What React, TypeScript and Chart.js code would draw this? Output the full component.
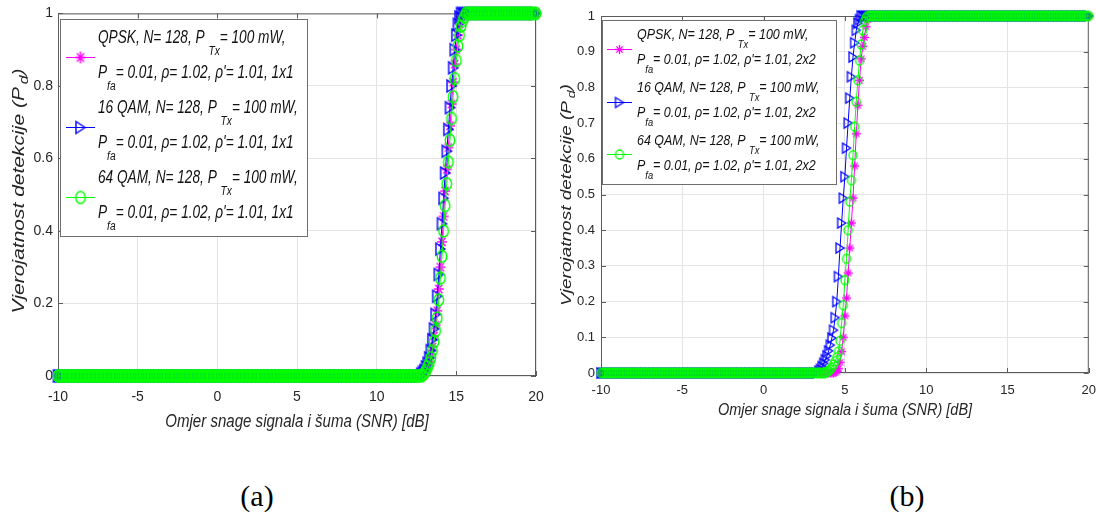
import React, { useEffect, useRef } from "react";
import { Chart, registerables } from "chart.js";

Chart.register(...registerables);

// SNR grid [dB], one row per dB
const snrDb = [
  -10, -9.9, -9.8, -9.7, -9.6, -9.5, -9.4, -9.3, -9.2, -9.1,
  -9, -8.9, -8.8, -8.7, -8.6, -8.5, -8.4, -8.3, -8.2, -8.1,
  -8, -7.9, -7.8, -7.7, -7.6, -7.5, -7.4, -7.3, -7.2, -7.1,
  -7, -6.9, -6.8, -6.7, -6.6, -6.5, -6.4, -6.3, -6.2, -6.1,
  -6, -5.9, -5.8, -5.7, -5.6, -5.5, -5.4, -5.3, -5.2, -5.1,
  -5, -4.9, -4.8, -4.7, -4.6, -4.5, -4.4, -4.3, -4.2, -4.1,
  -4, -3.9, -3.8, -3.7, -3.6, -3.5, -3.4, -3.3, -3.2, -3.1,
  -3, -2.9, -2.8, -2.7, -2.6, -2.5, -2.4, -2.3, -2.2, -2.1,
  -2, -1.9, -1.8, -1.7, -1.6, -1.5, -1.4, -1.3, -1.2, -1.1,
  -1, -0.9, -0.8, -0.7, -0.6, -0.5, -0.4, -0.3, -0.2, -0.1,
  0, 0.1, 0.2, 0.3, 0.4, 0.5, 0.6, 0.7, 0.8, 0.9,
  1, 1.1, 1.2, 1.3, 1.4, 1.5, 1.6, 1.7, 1.8, 1.9,
  2, 2.1, 2.2, 2.3, 2.4, 2.5, 2.6, 2.7, 2.8, 2.9,
  3, 3.1, 3.2, 3.3, 3.4, 3.5, 3.6, 3.7, 3.8, 3.9,
  4, 4.1, 4.2, 4.3, 4.4, 4.5, 4.6, 4.7, 4.8, 4.9,
  5, 5.1, 5.2, 5.3, 5.4, 5.5, 5.6, 5.7, 5.8, 5.9,
  6, 6.1, 6.2, 6.3, 6.4, 6.5, 6.6, 6.7, 6.8, 6.9,
  7, 7.1, 7.2, 7.3, 7.4, 7.5, 7.6, 7.7, 7.8, 7.9,
  8, 8.1, 8.2, 8.3, 8.4, 8.5, 8.6, 8.7, 8.8, 8.9,
  9, 9.1, 9.2, 9.3, 9.4, 9.5, 9.6, 9.7, 9.8, 9.9,
  10, 10.1, 10.2, 10.3, 10.4, 10.5, 10.6, 10.7, 10.8, 10.9,
  11, 11.1, 11.2, 11.3, 11.4, 11.5, 11.6, 11.7, 11.8, 11.9,
  12, 12.1, 12.2, 12.3, 12.4, 12.5, 12.6, 12.7, 12.8, 12.9,
  13, 13.1, 13.2, 13.3, 13.4, 13.5, 13.6, 13.7, 13.8, 13.9,
  14, 14.1, 14.2, 14.3, 14.4, 14.5, 14.6, 14.7, 14.8, 14.9,
  15, 15.1, 15.2, 15.3, 15.4, 15.5, 15.6, 15.7, 15.8, 15.9,
  16, 16.1, 16.2, 16.3, 16.4, 16.5, 16.6, 16.7, 16.8, 16.9,
  17, 17.1, 17.2, 17.3, 17.4, 17.5, 17.6, 17.7, 17.8, 17.9,
  18, 18.1, 18.2, 18.3, 18.4, 18.5, 18.6, 18.7, 18.8, 18.9,
  19, 19.1, 19.2, 19.3, 19.4, 19.5, 19.6, 19.7, 19.8, 19.9,
  20,
];

const xTicks = [-10, -5, 0, 5, 10, 15, 20];
const yTicksA = [0, 0.2, 0.4, 0.6, 0.8, 1];
const yTicksB = [0, 0.1, 0.2, 0.3, 0.4, 0.5, 0.6, 0.7, 0.8, 0.9, 1];

// (a) 1x1
const pdQpsk1x1 = [
  0,0,0,0,0,0,0,0,0,0, // -10
  0,0,0,0,0,0,0,0,0,0, // -9
  0,0,0,0,0,0,0,0,0,0, // -8
  0,0,0,0,0,0,0,0,0,0, // -7
  0,0,0,0,0,0,0,0,0,0, // -6
  0,0,0,0,0,0,0,0,0,0, // -5
  0,0,0,0,0,0,0,0,0,0, // -4
  0,0,0,0,0,0,0,0,0,0, // -3
  0,0,0,0,0,0,0,0,0,0, // -2
  0,0,0,0,0,0,0,0,0,0, // -1
  0,0,0,0,0,0,0,0,0,0, // 0
  0,0,0,0,0,0,0,0,0,0, // 1
  0,0,0,0,0,0,0,0,0,0, // 2
  0,0,0,0,0,0,0,0,0,0, // 3
  0,0,0,0,0,0,0,0,0,0, // 4
  0,0,0,0,0,0,0,0,0,0, // 5
  0,0,0,0,0,0,0,0,0,0, // 6
  0,0,0,0,0,0,0,0,0,0, // 7
  0,0,0,0,0,0,0,0,0,0, // 8
  0,0,0,0,0,0,0,0,0,0, // 9
  0,0,0,0,0,0,0,0,0,0, // 10
  0,0,0,0,0,0,0,0,0,0, // 11
  0,0,0,0,0,0,0,0,0,0.005, // 12
  0.01,0.02,0.03,0.04,0.06,0.08,0.11,0.14,0.18,0.24, // 13
  0.3,0.37,0.44,0.51,0.57,0.63,0.69,0.75,0.81,0.86, // 14
  0.9,0.94,0.97,0.99,1,1,1,1,1,1, // 15
  1,1,1,1,1,1,1,1,1,1, // 16
  1,1,1,1,1,1,1,1,1,1, // 17
  1,1,1,1,1,1,1,1,1,1, // 18
  1,1,1,1,1,1,1,1,1,1, // 19
  1,
];
const pd16qam1x1 = [
  0,0,0,0,0,0,0,0,0,0, // -10
  0,0,0,0,0,0,0,0,0,0, // -9
  0,0,0,0,0,0,0,0,0,0, // -8
  0,0,0,0,0,0,0,0,0,0, // -7
  0,0,0,0,0,0,0,0,0,0, // -6
  0,0,0,0,0,0,0,0,0,0, // -5
  0,0,0,0,0,0,0,0,0,0, // -4
  0,0,0,0,0,0,0,0,0,0, // -3
  0,0,0,0,0,0,0,0,0,0, // -2
  0,0,0,0,0,0,0,0,0,0, // -1
  0,0,0,0,0,0,0,0,0,0, // 0
  0,0,0,0,0,0,0,0,0,0, // 1
  0,0,0,0,0,0,0,0,0,0, // 2
  0,0,0,0,0,0,0,0,0,0, // 3
  0,0,0,0,0,0,0,0,0,0, // 4
  0,0,0,0,0,0,0,0,0,0, // 5
  0,0,0,0,0,0,0,0,0,0, // 6
  0,0,0,0,0,0,0,0,0,0, // 7
  0,0,0,0,0,0,0,0,0,0, // 8
  0,0,0,0,0,0,0,0,0,0, // 9
  0,0,0,0,0,0,0,0,0,0, // 10
  0,0,0,0,0,0,0,0,0,0, // 11
  0,0,0,0,0,0,0,0,0.005,0.01, // 12
  0.015,0.025,0.035,0.05,0.07,0.1,0.13,0.17,0.22,0.28, // 13
  0.35,0.42,0.49,0.56,0.62,0.68,0.74,0.8,0.85,0.9, // 14
  0.94,0.97,0.99,1,1,1,1,1,1,1, // 15
  1,1,1,1,1,1,1,1,1,1, // 16
  1,1,1,1,1,1,1,1,1,1, // 17
  1,1,1,1,1,1,1,1,1,1, // 18
  1,1,1,1,1,1,1,1,1,1, // 19
  1,
];
const pd64qam1x1 = [
  0,0,0,0,0,0,0,0,0,0, // -10
  0,0,0,0,0,0,0,0,0,0, // -9
  0,0,0,0,0,0,0,0,0,0, // -8
  0,0,0,0,0,0,0,0,0,0, // -7
  0,0,0,0,0,0,0,0,0,0, // -6
  0,0,0,0,0,0,0,0,0,0, // -5
  0,0,0,0,0,0,0,0,0,0, // -4
  0,0,0,0,0,0,0,0,0,0, // -3
  0,0,0,0,0,0,0,0,0,0, // -2
  0,0,0,0,0,0,0,0,0,0, // -1
  0,0,0,0,0,0,0,0,0,0, // 0
  0,0,0,0,0,0,0,0,0,0, // 1
  0,0,0,0,0,0,0,0,0,0, // 2
  0,0,0,0,0,0,0,0,0,0, // 3
  0,0,0,0,0,0,0,0,0,0, // 4
  0,0,0,0,0,0,0,0,0,0, // 5
  0,0,0,0,0,0,0,0,0,0, // 6
  0,0,0,0,0,0,0,0,0,0, // 7
  0,0,0,0,0,0,0,0,0,0, // 8
  0,0,0,0,0,0,0,0,0,0, // 9
  0,0,0,0,0,0,0,0,0,0, // 10
  0,0,0,0,0,0,0,0,0,0, // 11
  0,0,0,0,0,0,0,0,0,0.003, // 12
  0.008,0.015,0.025,0.035,0.05,0.07,0.095,0.125,0.16,0.21, // 13
  0.27,0.33,0.4,0.47,0.53,0.59,0.65,0.71,0.77,0.82, // 14
  0.87,0.91,0.94,0.965,0.98,0.99,1,1,1,1, // 15
  1,1,1,1,1,1,1,1,1,1, // 16
  1,1,1,1,1,1,1,1,1,1, // 17
  1,1,1,1,1,1,1,1,1,1, // 18
  1,1,1,1,1,1,1,1,1,1, // 19
  1,
];

// (b) 2x2
const pdQpsk2x2 = [
  0,0,0,0,0,0,0,0,0,0, // -10
  0,0,0,0,0,0,0,0,0,0, // -9
  0,0,0,0,0,0,0,0,0,0, // -8
  0,0,0,0,0,0,0,0,0,0, // -7
  0,0,0,0,0,0,0,0,0,0, // -6
  0,0,0,0,0,0,0,0,0,0, // -5
  0,0,0,0,0,0,0,0,0,0, // -4
  0,0,0,0,0,0,0,0,0,0, // -3
  0,0,0,0,0,0,0,0,0,0, // -2
  0,0,0,0,0,0,0,0,0,0, // -1
  0,0,0,0,0,0,0,0,0,0, // 0
  0,0,0,0,0,0,0,0,0,0, // 1
  0,0,0,0,0,0,0,0,0,0, // 2
  0,0,0,0,0,0,0,0,0,0, // 3
  0,0,0,0,0.002,0.005,0.012,0.03,0.06,0.1, // 4
  0.16,0.21,0.28,0.35,0.42,0.49,0.58,0.67,0.75,0.82, // 5
  0.88,0.915,0.94,0.97,0.99,1,1,1,1,1, // 6
  1,1,1,1,1,1,1,1,1,1, // 7
  1,1,1,1,1,1,1,1,1,1, // 8
  1,1,1,1,1,1,1,1,1,1, // 9
  1,1,1,1,1,1,1,1,1,1, // 10
  1,1,1,1,1,1,1,1,1,1, // 11
  1,1,1,1,1,1,1,1,1,1, // 12
  1,1,1,1,1,1,1,1,1,1, // 13
  1,1,1,1,1,1,1,1,1,1, // 14
  1,1,1,1,1,1,1,1,1,1, // 15
  1,1,1,1,1,1,1,1,1,1, // 16
  1,1,1,1,1,1,1,1,1,1, // 17
  1,1,1,1,1,1,1,1,1,1, // 18
  1,1,1,1,1,1,1,1,1,1, // 19
  1,
];
const pd16qam2x2 = [
  0,0,0,0,0,0,0,0,0,0, // -10
  0,0,0,0,0,0,0,0,0,0, // -9
  0,0,0,0,0,0,0,0,0,0, // -8
  0,0,0,0,0,0,0,0,0,0, // -7
  0,0,0,0,0,0,0,0,0,0, // -6
  0,0,0,0,0,0,0,0,0,0, // -5
  0,0,0,0,0,0,0,0,0,0, // -4
  0,0,0,0,0,0,0,0,0,0, // -3
  0,0,0,0,0,0,0,0,0,0, // -2
  0,0,0,0,0,0,0,0,0,0, // -1
  0,0,0,0,0,0,0,0,0,0, // 0
  0,0,0,0,0,0,0,0,0,0, // 1
  0,0,0,0,0,0,0,0,0,0, // 2
  0,0,0,0,0.005,0.01,0.018,0.027,0.037,0.048, // 3
  0.062,0.078,0.098,0.12,0.155,0.2,0.27,0.35,0.42,0.49, // 4
  0.55,0.63,0.7,0.77,0.83,0.885,0.925,0.96,0.98,0.99, // 5
  1,1,1,1,1,1,1,1,1,1, // 6
  1,1,1,1,1,1,1,1,1,1, // 7
  1,1,1,1,1,1,1,1,1,1, // 8
  1,1,1,1,1,1,1,1,1,1, // 9
  1,1,1,1,1,1,1,1,1,1, // 10
  1,1,1,1,1,1,1,1,1,1, // 11
  1,1,1,1,1,1,1,1,1,1, // 12
  1,1,1,1,1,1,1,1,1,1, // 13
  1,1,1,1,1,1,1,1,1,1, // 14
  1,1,1,1,1,1,1,1,1,1, // 15
  1,1,1,1,1,1,1,1,1,1, // 16
  1,1,1,1,1,1,1,1,1,1, // 17
  1,1,1,1,1,1,1,1,1,1, // 18
  1,1,1,1,1,1,1,1,1,1, // 19
  1,
];
const pd64qam2x2 = [
  0,0,0,0,0,0,0,0,0,0, // -10
  0,0,0,0,0,0,0,0,0,0, // -9
  0,0,0,0,0,0,0,0,0,0, // -8
  0,0,0,0,0,0,0,0,0,0, // -7
  0,0,0,0,0,0,0,0,0,0, // -6
  0,0,0,0,0,0,0,0,0,0, // -5
  0,0,0,0,0,0,0,0,0,0, // -4
  0,0,0,0,0,0,0,0,0,0, // -3
  0,0,0,0,0,0,0,0,0,0, // -2
  0,0,0,0,0,0,0,0,0,0, // -1
  0,0,0,0,0,0,0,0,0,0, // 0
  0,0,0,0,0,0,0,0,0,0, // 1
  0,0,0,0,0,0,0,0,0,0, // 2
  0,0,0,0,0,0,0,0,0,0.003, // 3
  0.006,0.01,0.016,0.024,0.033,0.044,0.06,0.09,0.14,0.19, // 4
  0.26,0.32,0.4,0.48,0.54,0.61,0.69,0.76,0.82,0.875, // 5
  0.92,0.96,0.985,0.995,1,1,1,1,1,1, // 6
  1,1,1,1,1,1,1,1,1,1, // 7
  1,1,1,1,1,1,1,1,1,1, // 8
  1,1,1,1,1,1,1,1,1,1, // 9
  1,1,1,1,1,1,1,1,1,1, // 10
  1,1,1,1,1,1,1,1,1,1, // 11
  1,1,1,1,1,1,1,1,1,1, // 12
  1,1,1,1,1,1,1,1,1,1, // 13
  1,1,1,1,1,1,1,1,1,1, // 14
  1,1,1,1,1,1,1,1,1,1, // 15
  1,1,1,1,1,1,1,1,1,1, // 16
  1,1,1,1,1,1,1,1,1,1, // 17
  1,1,1,1,1,1,1,1,1,1, // 18
  1,1,1,1,1,1,1,1,1,1, // 19
  1,
];

const seriesNames = ["QPSK", "16 QAM", "64 QAM"];
const seriesColors = ["#ff00ff", "#0000ff", "#00ff00"];
const markerKinds = ["star", "tri", "circle"];
const xTitle = "Omjer snage signala i šuma (SNR) [dB]";
const yTitleMain = "Vjerojatnost detekcije (P";
const yTitleSub = "d";
const captions = ["(a)", "(b)"];

const SANS = '"Liberation Sans", Arial, Helvetica, sans-serif';
const FRAME = "#5c5c5c";
const TEXT = "#262626";

type Seg = { t: string; sub?: boolean };

function legendLines(name: string, cfg: string): Seg[][] {
  return [
    [{ t: name + ", N= 128, P " }, { t: "Tx", sub: true }, { t: "= 100 mW," }],
    [{ t: "P" }, { t: "fa", sub: true }, { t: "= 0.01, ρ= 1.02, ρ'= 1.01, " + cfg }],
  ];
}

function makeMarker(kind: string, color: string, w: number, h: number, lw: number): HTMLCanvasElement {
  const c = document.createElement("canvas");
  c.width = Math.ceil(w) + 4;
  c.height = Math.ceil(h) + 4;
  const ctx = c.getContext("2d")!;
  ctx.strokeStyle = color;
  ctx.lineWidth = lw;
  const cx = c.width / 2, cy = c.height / 2, rx = w / 2, ry = h / 2;
  ctx.beginPath();
  if (kind === "circle") {
    ctx.ellipse(cx, cy, rx, ry, 0, 0, Math.PI * 2);
  } else if (kind === "tri") {
    ctx.moveTo(cx - rx, cy - ry);
    ctx.lineTo(cx + rx, cy);
    ctx.lineTo(cx - rx, cy + ry);
    ctx.closePath();
  } else {
    const d = 0.7;
    ctx.moveTo(cx - rx, cy); ctx.lineTo(cx + rx, cy);
    ctx.moveTo(cx, cy - ry); ctx.lineTo(cx, cy + ry);
    ctx.moveTo(cx - rx * d, cy - ry * d); ctx.lineTo(cx + rx * d, cy + ry * d);
    ctx.moveTo(cx - rx * d, cy + ry * d); ctx.lineTo(cx + rx * d, cy - ry * d);
  }
  ctx.stroke();
  return c;
}

type Panel = {
  values: number[][];
  cfg: string;
  yTicks: number[];
  yAxisW: number;
  xAxisH: number;
  padRight: number;
  padTop: number;
  tickSize: number;
  xTickLen: number;
  yTickPad: number;
  markerSizes: number[][];
  markerLw: number;
  xTitle: { cx: number; cy: number; size: number; sx: number };
  yTitle: { cx: number; cy: number; size: number; sy: number };
  legend: {
    box: number[];
    textX: number;
    size: number;
    sx: number;
    baselines: number[];
    subDy: number;
    lineX0: number;
    lineX1: number;
    markerY: number[];
  };
};

const panelA: Panel = {
  values: [pdQpsk1x1, pd16qam1x1, pd64qam1x1],
  cfg: "1x1",
  yTicks: yTicksA,
  yAxisW: 58,
  xAxisH: 64,
  padRight: 12,
  padTop: 13,
  tickSize: 14,
  xTickLen: 13,
  yTickPad: 5,
  markerSizes: [[10, 12], [9, 12], [9.5, 12]],
  markerLw: 1.4,
  xTitle: { cx: 297, cy: 422, size: 17.5, sx: 0.86 },
  yTitle: { cx: 19, cy: 191, size: 21, sy: 0.8 },
  legend: {
    box: [60, 19, 247, 217],
    textX: 98,
    size: 17.5,
    sx: 0.78,
    baselines: [43, 78, 113, 148, 183, 218],
    subDy: 12,
    lineX0: 66,
    lineX1: 95,
    markerY: [57, 127, 197],
  },
};

const panelB: Panel = {
  values: [pdQpsk2x2, pd16qam2x2, pd64qam2x2],
  cfg: "2x2",
  yTicks: yTicksB,
  yAxisW: 53,
  xAxisH: 67,
  padRight: 7,
  padTop: 16,
  tickSize: 13,
  xTickLen: 10,
  yTickPad: 6,
  markerSizes: [[9, 9], [8, 10], [8, 9]],
  markerLw: 1.3,
  xTitle: { cx: 297, cy: 410, size: 16.5, sx: 0.88 },
  yTitle: { cx: 19, cy: 195, size: 19, sy: 0.8 },
  legend: {
    box: [54, 20, 234, 164],
    textX: 89,
    size: 14.5,
    sx: 0.86,
    baselines: [39, 64, 92, 117, 145, 170],
    subDy: 9,
    lineX0: 59,
    lineX1: 84,
    markerY: [49, 102, 154],
  },
};

function buildChart(canvas: HTMLCanvasElement, p: Panel): Chart {
  const markers = markerKinds.map((k, i) =>
    makeMarker(k, seriesColors[i], p.markerSizes[i][0], p.markerSizes[i][1], p.markerLw)
  );

  const datasets = p.values.map((vals, i) => ({
    label: seriesNames[i],
    data: snrDb.map((x, j) => ({ x, y: vals[j] })),
    borderColor: seriesColors[i],
    backgroundColor: seriesColors[i],
    borderWidth: 1,
    pointStyle: markers[i] as any,
    pointRadius: 5,
    pointHoverRadius: 5,
    showLine: true,
    fill: false,
    tension: 0,
    clip: false as any,
    order: 3 - i,
  }));

  const drawSegs = (ctx: CanvasRenderingContext2D, segs: Seg[], size: number, subDy: number) => {
    let x = 0;
    for (const s of segs) {
      const fs = s.sub ? size * 0.75 : size;
      ctx.font = `italic ${fs}px ${SANS}`;
      ctx.fillText(s.t, x, s.sub ? subDy : 0);
      x += ctx.measureText(s.t).width;
    }
    return x;
  };

  const framePlugin = {
    id: "frame",
    beforeDatasetsDraw(chart: any) {
      const { ctx, chartArea: a, scales } = chart;
      ctx.save();
      ctx.strokeStyle = FRAME;
      ctx.lineWidth = 1;
      ctx.strokeRect(a.left + 0.5, a.top + 0.5, a.right - a.left - 1, a.bottom - a.top - 1);
      ctx.beginPath();
      for (const v of xTicks) {
        const px = Math.round(scales.x.getPixelForValue(v)) + 0.5;
        ctx.moveTo(px, a.bottom); ctx.lineTo(px, a.bottom - 5);
        ctx.moveTo(px, a.top); ctx.lineTo(px, a.top + 5);
      }
      for (const v of p.yTicks) {
        const py = Math.round(scales.y.getPixelForValue(v)) + 0.5;
        ctx.moveTo(a.left, py); ctx.lineTo(a.left + 5, py);
        ctx.moveTo(a.right, py); ctx.lineTo(a.right - 5, py);
      }
      ctx.stroke();
      ctx.restore();
    },
    afterDraw(chart: any) {
      const ctx: CanvasRenderingContext2D = chart.ctx;
      // x title
      ctx.save();
      ctx.fillStyle = TEXT;
      ctx.font = `italic ${p.xTitle.size}px ${SANS}`;
      ctx.textAlign = "center";
      ctx.textBaseline = "middle";
      ctx.translate(p.xTitle.cx, p.xTitle.cy);
      ctx.scale(p.xTitle.sx, 1);
      ctx.fillText(xTitle, 0, 0);
      ctx.restore();

      // y title (rotated, with subscript)
      ctx.save();
      ctx.fillStyle = TEXT;
      ctx.textBaseline = "middle";
      ctx.textAlign = "left";
      ctx.translate(p.yTitle.cx, p.yTitle.cy);
      ctx.rotate(-Math.PI / 2);
      ctx.scale(1, p.yTitle.sy);
      const ys = p.yTitle.size;
      ctx.font = `italic ${ys}px ${SANS}`;
      const w1 = ctx.measureText(yTitleMain).width;
      const wSp = ctx.measureText(" ").width * 0.5;
      ctx.font = `italic ${ys * 0.75}px ${SANS}`;
      const w2 = ctx.measureText(yTitleSub).width;
      ctx.font = `italic ${ys}px ${SANS}`;
      const w3 = ctx.measureText(")").width;
      const total = w1 + wSp + w2 + w3;
      let x = -total / 2;
      ctx.fillText(yTitleMain, x, 0);
      x += w1 + wSp;
      ctx.font = `italic ${ys * 0.75}px ${SANS}`;
      ctx.fillText(yTitleSub, x, ys * 0.35);
      x += w2;
      ctx.font = `italic ${ys}px ${SANS}`;
      ctx.fillText(")", x, 0);
      ctx.restore();

      // legend
      const L = p.legend;
      ctx.save();
      ctx.fillStyle = "#ffffff";
      ctx.fillRect(L.box[0], L.box[1], L.box[2], L.box[3]);
      ctx.strokeStyle = "#6e6e6e";
      ctx.lineWidth = 1;
      ctx.strokeRect(L.box[0] + 0.5, L.box[1] + 0.5, L.box[2], L.box[3]);
      for (let i = 0; i < 3; i++) {
        const my = L.markerY[i];
        ctx.strokeStyle = seriesColors[i];
        ctx.beginPath();
        ctx.moveTo(L.lineX0, my + 0.5);
        ctx.lineTo(L.lineX1, my + 0.5);
        ctx.stroke();
        const m = markers[i];
        const mx = (L.lineX0 + L.lineX1) / 2;
        ctx.drawImage(m, mx - m.width / 2, my + 0.5 - m.height / 2);
        const lines = legendLines(seriesNames[i], p.cfg);
        for (let k = 0; k < 2; k++) {
          ctx.save();
          ctx.fillStyle = "#111111";
          ctx.textBaseline = "alphabetic";
          ctx.textAlign = "left";
          ctx.translate(L.textX, L.baselines[i * 2 + k]);
          ctx.scale(L.sx, 1);
          drawSegs(ctx, lines[k], L.size, L.subDy);
          ctx.restore();
        }
      }
      ctx.restore();
    },
  };

  const tickFont = { family: SANS, size: p.tickSize };

  return new Chart(canvas, {
    type: "scatter",
    data: { datasets: datasets as any },
    options: {
      animation: false,
      responsive: false,
      events: [],
      layout: { padding: { left: 0, right: p.padRight, top: p.padTop, bottom: 0 } },
      plugins: {
        legend: { display: false },
        tooltip: { enabled: false },
        title: { display: false },
      },
      scales: {
        x: {
          type: "linear",
          min: -10,
          max: 20,
          afterBuildTicks: (s: any) => {
            s.ticks = xTicks.map((v) => ({ value: v }));
          },
          afterFit: (s: any) => {
            s.height = p.xAxisH;
          },
          ticks: {
            font: tickFont,
            color: TEXT,
            padding: 0,
            maxRotation: 0,
            autoSkip: false,
            callback: (v: any) => String(v),
          },
          grid: {
            color: "#e4e4e4",
            drawTicks: true,
            tickLength: p.xTickLen,
            tickColor: "rgba(0,0,0,0)",
            lineWidth: 1,
          },
          border: { display: false },
          title: { display: false },
        },
        y: {
          type: "linear",
          min: 0,
          max: 1,
          afterBuildTicks: (s: any) => {
            s.ticks = p.yTicks.map((v) => ({ value: v }));
          },
          afterFit: (s: any) => {
            s.width = p.yAxisW;
          },
          ticks: {
            font: tickFont,
            color: TEXT,
            padding: p.yTickPad,
            autoSkip: false,
            callback: (v: any) => String(v),
          },
          grid: { color: "#e4e4e4", drawTicks: false, lineWidth: 1 },
          border: { display: false },
          title: { display: false },
        },
      },
    } as any,
    plugins: [framePlugin as any],
  });
}

export default function App() {
  const refA = useRef<HTMLCanvasElement>(null);
  const refB = useRef<HTMLCanvasElement>(null);

  useEffect(() => {
    const a = buildChart(refA.current!, panelA);
    const b = buildChart(refB.current!, panelB);
    return () => {
      a.destroy();
      b.destroy();
    };
  }, []);

  const capStyle: React.CSSProperties = {
    position: "absolute",
    top: 481,
    width: 100,
    textAlign: "center",
    font: '30px/30px "Liberation Serif", "Times New Roman", serif',
    color: "#000",
  };

  return (
    <div
      style={{
        position: "fixed",
        left: 0,
        top: 0,
        width: 1096,
        height: 516,
        background: "#ffffff",
        overflow: "hidden",
      }}
    >
      <canvas
        ref={refA}
        width={548}
        height={440}
        style={{ position: "absolute", left: 0, top: 0, width: 548, height: 440 }}
      />
      <canvas
        ref={refB}
        width={548}
        height={440}
        style={{ position: "absolute", left: 548, top: 0, width: 548, height: 440 }}
      />
      <div style={{ ...capStyle, left: 207 }}>{captions[0]}</div>
      <div style={{ ...capStyle, left: 857 }}>{captions[1]}</div>
    </div>
  );
}
